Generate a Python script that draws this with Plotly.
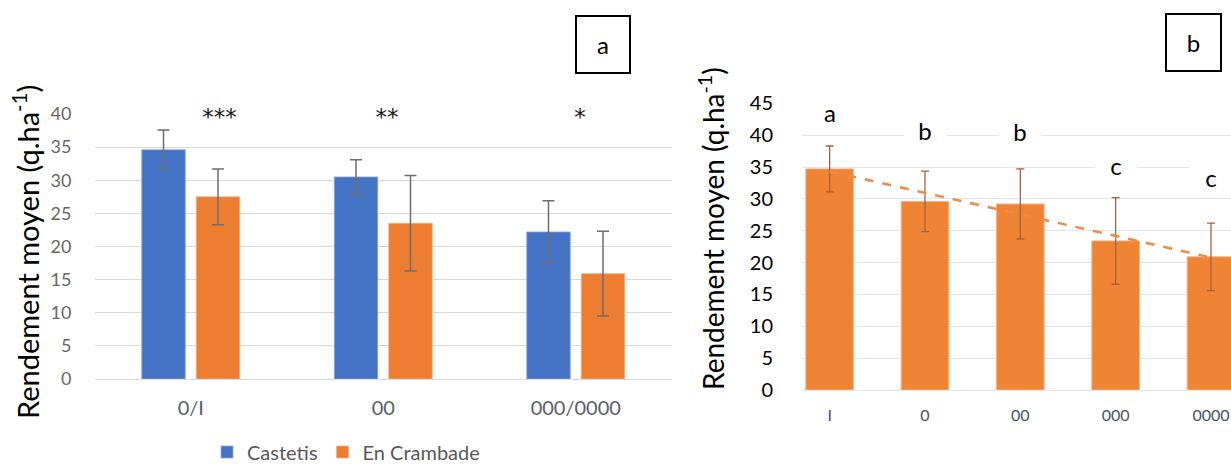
import numpy as np
import plotly.graph_objects as go

# ---------- data: panel a ----------
groups_a = ["0/I", "00", "000/0000"]
castetis = [34.6, 30.5, 22.2]
castetis_err = [3.0, 2.6, 4.7]
crambade = [27.5, 23.5, 15.9]
crambade_err = [4.2, 7.2, 6.4]
signif = ["***", "**", "*"]

# ---------- data: panel b ----------
groups_b = ["I", "0", "00", "000", "0000"]
rendement_b = [34.7, 29.6, 29.2, 23.4, 20.9]
rendement_b_err = [3.6, 4.75, 5.5, 6.8, 5.3]
letters_b = ["a", "b", "b", "c", "c"]
letters_y = [43.5, 40.7, 40.5, 35.3, 33.4]

W, H = 1231, 464
FONT = "Lato, Carlito, Calibri, sans-serif"
BLUE = "#4472C4"
ORANGE = "#ED7D31"
ORANGE_B = "#EF8434"

fig = go.Figure()

# panel a bars
fig.add_trace(go.Bar(
    x=groups_a, y=castetis, name="Castetis",
    marker=dict(color=BLUE, line=dict(color="#8FAADC", width=0.8)),
    width=0.226, offset=-0.2545,
    error_y=dict(type="data", array=castetis_err, color="#6E6E6E", thickness=1.5, width=6),
    xaxis="x", yaxis="y"))
fig.add_trace(go.Bar(
    x=groups_a, y=crambade, name="En Crambade",
    marker=dict(color=ORANGE, line=dict(color="#F4B183", width=0.8)),
    width=0.226, offset=0.0285,
    error_y=dict(type="data", array=crambade_err, color="#6E6E6E", thickness=1.5, width=6),
    xaxis="x", yaxis="y"))

# panel b bars
fig.add_trace(go.Bar(
    x=groups_b, y=rendement_b, name="b", showlegend=False,
    marker=dict(color=ORANGE_B, line=dict(color="#F6B48A", width=1)),
    width=0.5, offset=-0.25,
    error_y=dict(type="data", array=rendement_b_err, color="#A8623A", thickness=1.3, width=4),
    xaxis="x2", yaxis="y2"))

# trend line (linear fit of panel b means)
xi = np.arange(len(rendement_b))
slope, intercept = np.polyfit(xi, rendement_b, 1)
trend = slope * xi + intercept
fig.add_trace(go.Scatter(
    x=groups_b, y=trend, mode="lines", showlegend=False,
    line=dict(color="#F08A45", width=2.5, dash="dash"),
    xaxis="x2", yaxis="y2", hoverinfo="skip"))

ann = []
# significance stars (x given as category index)
star_shift = [29, 4, 4]
star_w = [75, 80, 46]
for i, (s, sh, w) in enumerate(zip(signif, star_shift, star_w)):
    ann.append(dict(x=i, y=40, xref="x", yref="y", text=s, showarrow=False,
                    xshift=sh, yshift=-3, width=w, bgcolor="white",
                    font=dict(family="DejaVu Sans", size=23, color="#1a1a1a")))
# letters panel b
for i, (l, ly) in enumerate(zip(letters_b, letters_y)):
    ann.append(dict(x=i, y=ly, xref="x2", yref="y2", text=l, showarrow=False,
                    bgcolor="white", width=40,
                    font=dict(family=FONT, size=24, color="black")))
# y titles
ytitle = "Rendement moyen (q.ha<sup>-1</sup>)"
ann.append(dict(x=26 / W, y=(H - 252) / H, xref="paper", yref="paper", text=ytitle,
                textangle=-90, showarrow=False, xanchor="center", yanchor="middle",
                font=dict(family=FONT, size=29, color="black")))
ann.append(dict(x=711 / W, y=(H - 229) / H, xref="paper", yref="paper", text=ytitle,
                textangle=-90, showarrow=False, xanchor="center", yanchor="middle",
                font=dict(family=FONT, size=28, color="black")))
# panel labels in boxes
ann.append(dict(x=603 / W, y=(H - 44.5) / H, xref="paper", yref="paper", text="a",
                showarrow=False, xanchor="center", yanchor="middle",
                width=52, height=55, bordercolor="black", borderwidth=2, borderpad=0,
                font=dict(family=FONT, size=24, color="black")))
ann.append(dict(x=1193.5 / W, y=(H - 42.5) / H, xref="paper", yref="paper", text="b",
                showarrow=False, xanchor="center", yanchor="middle",
                width=53, height=55, bordercolor="black", borderwidth=2, borderpad=0,
                font=dict(family=FONT, size=24, color="black")))

fig.update_layout(
    width=W, height=H,
    margin=dict(l=0, r=0, t=0, b=0, autoexpand=False),
    paper_bgcolor="white", plot_bgcolor="white",
    barmode="overlay",
    font=dict(family=FONT),
    showlegend=True,
    legend=dict(orientation="h", x=346 / W, xanchor="center", y=(H - 452) / H, yanchor="middle",
                font=dict(family=FONT, size=20, color="#595959"), bgcolor="rgba(0,0,0,0)",
                itemwidth=30, tracegroupgap=0),
    xaxis=dict(domain=[94.5 / W, 672 / W], range=[-0.5, 2.5], type="category", automargin=False,
               showgrid=False, showline=False, ticks="", zeroline=False,
               tickfont=dict(family=FONT, size=20, color="#5A5F6A"), ticklabelstandoff=15),
    yaxis=dict(domain=[(H - 379) / H, (H - 114) / H], range=[0, 40], dtick=5, automargin=False,
               showgrid=True, gridcolor="#D9D9D9", gridwidth=1.2, zeroline=True,
               zerolinecolor="#D9D9D9", zerolinewidth=1.2, showline=False, ticks="",
               tickfont=dict(family=FONT, size=18, color="#6B6560"), ticklabelstandoff=22),
    xaxis2=dict(domain=[802 / W, 1.0], range=[-0.29, 4.21], type="category", automargin=False,
                showgrid=False, showline=False, ticks="", zeroline=False, anchor="y2",
                tickfont=dict(family=FONT, size=16, color="#44546A"), ticklabelstandoff=14),
    yaxis2=dict(domain=[(H - 390) / H, (H - 103.3) / H], range=[0, 45], dtick=5, anchor="x2",
                automargin=False,
                showgrid=True, gridcolor="#E1E6EE", gridwidth=1.2, zeroline=True,
                zerolinecolor="#E1E6EE", zerolinewidth=1.2, showline=False, ticks="",
                tickfont=dict(family=FONT, size=20, color="black"), ticklabelstandoff=28),
    annotations=ann,
)

fig.write_html("out.html", config={"displayModeBar": False},
               post_script="document.body.style.margin='0';document.body.style.overflow='hidden';")
